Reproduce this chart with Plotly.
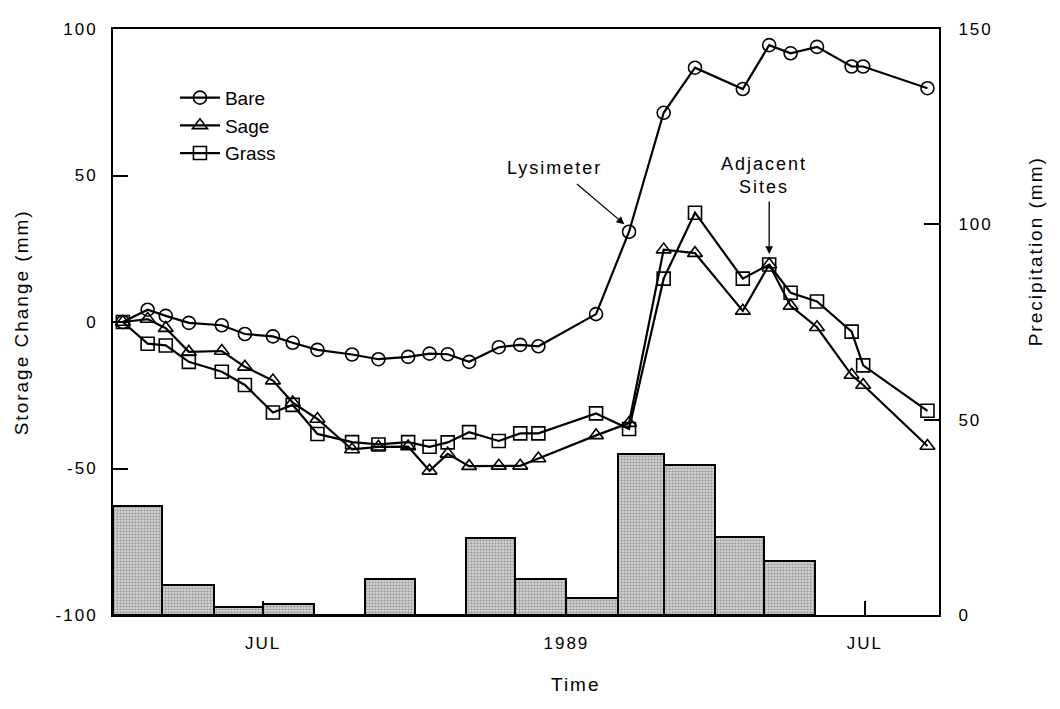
import pandas as pd
import plotly.graph_objects as go

# ---- data ----
dates = ["1988-04-07", "1988-04-22", "1988-05-03", "1988-05-17", "1988-06-06",
         "1988-06-20", "1988-07-07", "1988-07-19", "1988-08-03", "1988-08-24",
         "1988-09-09", "1988-09-27", "1988-10-10", "1988-10-21", "1988-11-03",
         "1988-11-21", "1988-12-04", "1988-12-15", "1989-01-19", "1989-02-08",
         "1989-03-01", "1989-03-20", "1989-04-18", "1989-05-04", "1989-05-17",
         "1989-06-02", "1989-06-23", "1989-06-30", "1989-08-08"]
bare = [0, 4.2, 2.1, -0.3, -1.1, -4.1, -4.9, -7.1, -9.5, -11.1,
        -12.7, -11.9, -10.8, -11.0, -13.6, -8.6, -7.8, -8.3, 2.7, 30.8,
        71.4, 86.8, 79.5, 94.5, 91.7, 93.9, 87.2, 87.2, 79.8]
sage = [0, 1.0, -2.1, -10.2, -9.9, -15.3, -20.0, -27.5, -33.1, -43.5,
        -42.6, -42.5, -50.8, -45.0, -49.2, -49.1, -49.1, -46.6, -38.7, -34.5,
        24.7, 23.5, 3.8, 19.6, 5.5, -1.8, -18.1, -21.5, -42.3]
grass = [0, -7.4, -8.0, -13.6, -17.0, -21.5, -30.9, -28.3, -38.2, -41.0,
         -41.8, -41.0, -42.6, -41.1, -37.6, -40.6, -38.0, -38.0, -31.2, -36.5,
         14.8, 37.3, 14.8, 19.6, 10.0, 7.0, -3.3, -14.8, -30.3]

months = ["1988-04-01", "1988-05-01", "1988-06-01", "1988-07-01", "1988-08-01",
          "1988-09-01", "1988-10-01", "1988-11-01", "1988-12-01", "1989-01-01",
          "1989-02-01", "1989-03-01", "1989-04-01", "1989-05-01"]
precip = [28.0, 7.6, 2.0, 2.8, 0, 9.1, 0, 19.8, 9.1, 4.3, 41.3, 38.5, 20.0, 13.7]

x_tick_vals = ["1988-07-01", "1989-01-01", "1989-07-01"]
x_tick_text = ["JUL", "1989", "JUL"]
left_ticks = [-100, -50, 0, 50, 100]
right_ticks = [0, 50, 100, 150]

FONT = "Liberation Sans, Arial, Helvetica, sans-serif"

# bar widths = length of each month
ms = pd.to_datetime(months)
widths = [((m + pd.offsets.MonthBegin(1)) - m).total_seconds() * 1000 for m in ms]

fig = go.Figure()

fig.add_trace(go.Bar(
    x=months, y=precip, width=widths, offset=0, yaxis="y",
    marker=dict(color="#c8c8c8", line=dict(color="black", width=2),
                pattern=dict(shape=".", fgcolor="#555555", bgcolor="#d2d2d2",
                             size=3, solidity=0.4)),
    showlegend=False, hoverinfo="skip"))

series = [("Bare", bare, "circle-open"), ("Sage", sage, "triangle-up-open"),
          ("Grass", grass, "square-open")]
for name, vals, sym in series:
    fig.add_trace(go.Scatter(
        x=dates, y=vals, name=name, yaxis="y2", mode="lines+markers",
        line=dict(color="black", width=2.2),
        marker=dict(symbol=sym, size=13, color="black", line=dict(width=1.6))))

# the page body has an 8px margin; keep the figure inside the window
fig.update_layout(
    width=1044, height=693,
    margin=dict(l=105, r=113, t=13, b=86),
    paper_bgcolor="white", plot_bgcolor="white",
    font=dict(family=FONT, size=17, color="black"),
    barmode="overlay", bargap=0,
    showlegend=True,
    legend=dict(x=0.075, y=0.915, xanchor="left", yanchor="top",
                bgcolor="rgba(0,0,0,0)", font=dict(size=19),
                tracegroupgap=0, itemwidth=40),
    xaxis=dict(type="date", range=["1988-04-01", "1989-08-15"],
               tickvals=x_tick_vals, ticktext=x_tick_text,
               ticks="inside", ticklen=14, tickwidth=2, tickcolor="black",
               showline=True, linewidth=2, linecolor="black", mirror=True,
               showgrid=False, zeroline=False, ticklabelstandoff=12),
    yaxis=dict(range=[0, 150], side="right", tickvals=right_ticks,
               ticks="inside", ticklen=15, tickwidth=2, tickcolor="black",
               showline=True, linewidth=2, linecolor="black",
               showgrid=False, zeroline=False, ticklabelstandoff=14),
    yaxis2=dict(range=[-100, 100], side="left", overlaying="y",
                tickvals=left_ticks, ticktext=[str(v) for v in left_ticks],
                ticks="inside", ticklen=15, tickwidth=2, tickcolor="black",
                showline=True, linewidth=2, linecolor="black",
                showgrid=False, zeroline=False, ticklabelstandoff=10),
)

# axis titles
fig.add_annotation(text="Storage Change (mm)", xref="paper", yref="paper",
                   x=-0.111, y=0.5, textangle=-90, showarrow=False,
                   font=dict(size=19), xanchor="center", yanchor="middle")
fig.add_annotation(text="Precipitation (mm)", xref="paper", yref="paper",
                   x=1.117, y=0.62, textangle=-90, showarrow=False,
                   font=dict(size=19), xanchor="center", yanchor="middle")
fig.add_annotation(text="Time", xref="paper", yref="paper",
                   x=0.5605, y=-0.118, showarrow=False, font=dict(size=19),
                   xanchor="center", yanchor="middle")

# callouts
fig.add_annotation(text="Lysimeter", xref="x", yref="y2", x="1988-12-25", y=52.5,
                   showarrow=False, font=dict(size=18))
fig.add_annotation(text="Adjacent<br>Sites", xref="x", yref="y2", x="1989-05-01", y=50,
                   showarrow=False, font=dict(size=18))
fig.add_annotation(text="", xref="x", yref="y2", x="1989-02-07", y=32.5,
                   ax=-52, ay=-44, showarrow=True, arrowhead=2, arrowsize=1.2,
                   arrowwidth=1.3, arrowcolor="black", standoff=4)
fig.add_annotation(text="", xref="x", yref="y2", x="1989-05-04", y=22.5,
                   ax=0, ay=-56, showarrow=True, arrowhead=2, arrowsize=1.2,
                   arrowwidth=1.3, arrowcolor="black", standoff=2)

spacing_js = """
document.querySelectorAll('.main-svg text').forEach(function(t){
  if (!t.classList.contains('legendtext')) { t.style.letterSpacing = '2px'; }
});
"""

fig.write_html("out.html", post_script=spacing_js)
